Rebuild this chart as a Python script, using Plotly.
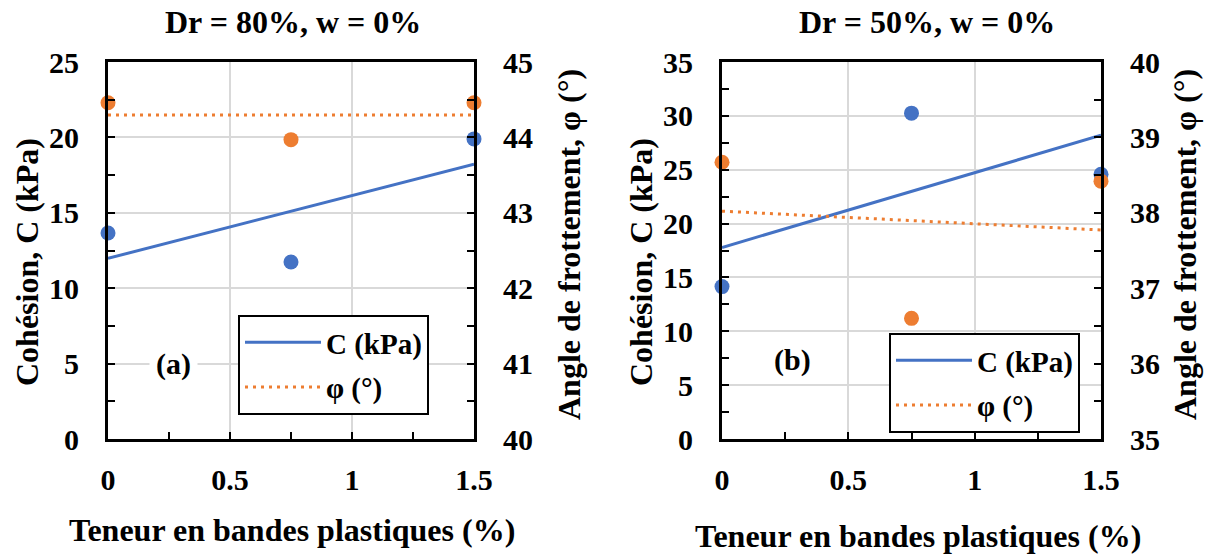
import numpy as np
import plotly.graph_objects as go

# ---- data ----
x_teneur = [0, 0.75, 1.5]
c_a = [13.66, 11.74, 19.9]      # Dr = 80%
phi_a = [44.46, 43.97, 44.46]
c_b = [14.15, 30.25, 24.57]     # Dr = 50%
phi_b = [38.67, 36.6, 38.42]

titles = ["Dr = 80%, w = 0%", "Dr = 50%, w = 0%"]
panel_labels = ["(a)", "(b)"]
x_title = "Teneur en bandes plastiques (%)"
yl_title = "Cohésion, C (kPa)"
yr_title = "Angle de frottement, φ (°)"
leg_c = "C (kPa)"
leg_phi = "φ (°)"

BLUE = "#4472C4"
ORANGE = "#ED7D31"
FONT = "Liberation Serif, Times New Roman, serif"
W, H = 1206, 556

def fit(x, y):
    k, b = np.polyfit(x, y, 1)
    xs = np.array([min(x), max(x)])
    return xs, k * xs + b

fig = go.Figure()

panels = [
    dict(x="x", yl="y", yr="y2", c=c_a, phi=phi_a, leg="legend"),
    dict(x="x2", yl="y3", yr="y4", c=c_b, phi=phi_b, leg="legend2"),
]

for p in panels:
    fig.add_trace(go.Scatter(x=x_teneur, y=p["c"], mode="markers", xaxis=p["x"], yaxis=p["yl"],
                             marker=dict(color=BLUE, size=15), showlegend=False, cliponaxis=False))
    xs, ys = fit(x_teneur, p["c"])
    fig.add_trace(go.Scatter(x=xs, y=ys, mode="lines", xaxis=p["x"], yaxis=p["yl"],
                             line=dict(color=BLUE, width=3), name=leg_c, legend=p["leg"],
                             legendgroup="c", cliponaxis=False))
    fig.add_trace(go.Scatter(x=x_teneur, y=p["phi"], mode="markers", xaxis=p["x"], yaxis=p["yr"],
                             marker=dict(color=ORANGE, size=15), showlegend=False, cliponaxis=False))
    xs, ys = fit(x_teneur, p["phi"])
    fig.add_trace(go.Scatter(x=xs, y=ys, mode="lines", xaxis=p["x"], yaxis=p["yr"],
                             line=dict(color=ORANGE, width=3, dash="3px,5px"), name=leg_phi,
                             legend=p["leg"], legendgroup="phi", cliponaxis=False))

tickfont = dict(family=FONT, size=30, color="black", weight="bold")
GRID = "#d9d9d9"
TK = dict(ticks="inside", ticklen=7, tickwidth=2, tickcolor="black")

def xax(domain, anchor):
    return dict(domain=domain, anchor=anchor, range=[0, 1.5], dtick=0.5, tick0=0,
                showline=True, linecolor="black", linewidth=3, mirror=True, **TK,
                minor=dict(dtick=0.25, showgrid=False, **TK),
                showgrid=True, gridcolor=GRID, gridwidth=2, zeroline=False, automargin=False,
                tickfont=tickfont, ticklabelstandoff=12)

def ylax(domain, anchor, rng, dt):
    return dict(domain=domain, anchor=anchor, range=rng, dtick=dt, tick0=0,
                showline=True, linecolor="black", linewidth=3, **TK,
                minor=dict(dtick=dt / 2, showgrid=False, **TK),
                showgrid=True, gridcolor=GRID, gridwidth=2, zeroline=False, automargin=False,
                tickfont=tickfont, ticklabelstandoff=20)

def yrax(anchor, overlay, rng, dt):
    return dict(anchor=anchor, overlaying=overlay, side="right", range=rng, dtick=dt, tick0=rng[0],
                showline=True, linecolor="black", linewidth=3, **TK,
                minor=dict(dtick=dt / 2, showgrid=False, **TK),
                showgrid=False, zeroline=False, automargin=False,
                tickfont=tickfont, ticklabelstandoff=20)

ydom = [1 - 439 / H, 1 - 62 / H]
fig.update_layout(
    width=W, height=H, margin=dict(l=0, r=0, t=0, b=0, autoexpand=False),
    paper_bgcolor="white", plot_bgcolor="white",
    font=dict(family=FONT),
    xaxis=xax([108 / W, 474 / W], "y"),
    yaxis=ylax(ydom, "x", [0, 25], 5),
    yaxis2=yrax("x", "y", [40, 45], 1),
    xaxis2=xax([722 / W, 1101 / W], "y3"),
    yaxis3=ylax(ydom, "x2", [0, 35], 5),
    yaxis4=yrax("x2", "y3", [35, 40], 1),
    showlegend=True,
)

legfont = dict(family=FONT, size=29, color="black", weight="bold")
for name, lx, ly in [("legend", 238, 315), ("legend2", 889, 333)]:
    fig.update_layout({name: dict(x=lx / W, y=1 - ly / H, xanchor="left", yanchor="top",
                                  bgcolor="white", bordercolor="black", borderwidth=2,
                                  font=legfont, itemwidth=76, traceorder="grouped",
                                  tracegroupgap=4)})

ann_font = dict(family=FONT, size=32, color="black", weight="bold")
anns = [
    dict(text=titles[0], x=293 / W, y=1 - 22 / H),
    dict(text=titles[1], x=927 / W, y=1 - 22 / H),
    dict(text=x_title, x=292 / W, y=1 - 530 / H),
    dict(text=x_title, x=918 / W, y=1 - 536 / H),
    dict(text=yl_title, x=27 / W, y=1 - 262 / H, textangle=-90),
    dict(text=yr_title, x=569 / W, y=1 - 245 / H, textangle=-90),
    dict(text=yl_title, x=641 / W, y=1 - 262 / H, textangle=-90),
    dict(text=yr_title, x=1185 / W, y=1 - 245 / H, textangle=-90),
]
for a in anns:
    fig.add_annotation(xref="paper", yref="paper", showarrow=False, font=ann_font,
                       xanchor="center", yanchor="middle", **a)

lab_font = dict(family=FONT, size=30, color="black", weight="bold")
fig.add_annotation(text=panel_labels[0], x=0.27, y=5, xref="x", yref="y", showarrow=False,
                   font=lab_font, bgcolor="white", borderpad=6)
fig.add_annotation(text=panel_labels[1], x=0.28, y=7.3, xref="x2", yref="y3", showarrow=False,
                   font=lab_font, bgcolor="white", borderpad=6)

fig.write_html("out.html", config={"responsive": False})
